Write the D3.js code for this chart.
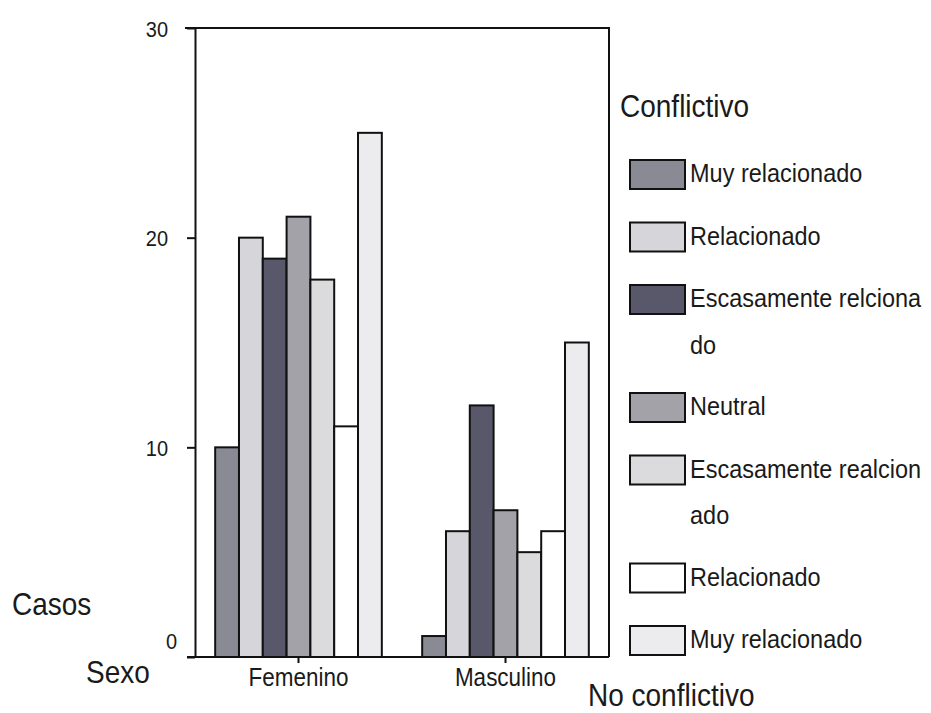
<!DOCTYPE html>
<html>
<head>
<meta charset="utf-8">
<script src="https://cdn.jsdelivr.net/npm/d3@7"></script>
<style>
  body { margin: 0; background: #fff; }
  text { font-family: "Liberation Sans", Arial, sans-serif; fill: #1a1a1a; }
</style>
</head>
<body>
<svg id="chart" width="931" height="713"></svg>
<script>
// sexo categories
const categories = ['Femenino', 'Masculino']
// conflictivo -> no conflictivo scale, one series each
const series = ['Muy relacionado', 'Relacionado', 'Escasamente relcionado', 'Neutral',
  'Escasamente realcionado', 'Relacionado', 'Muy relacionado']
// legend labels as they wrap in the original
const legendLabels = [['Muy relacionado'], ['Relacionado'], ['Escasamente relciona', 'do'], ['Neutral'],
  ['Escasamente realcion', 'ado'], ['Relacionado'], ['Muy relacionado']]
const femenino = [10, 20, 19, 21, 18, 11, 25]
const masculino = [1, 6, 12, 7, 5, 6, 15]
const yTicks = [0, 10, 20, 30]
const fills = ['#8a8a95', '#d6d6da', '#58586a', '#a2a2a8', '#dbdbde', '#ffffff', '#ececef']

const values = [femenino, masculino]
const data = []
categories.forEach((c, ci) => {
  series.forEach((s, si) => {
    data.push({cat: c, idx: si, value: values[ci][si]})
  })
})

const svg = d3.select('#chart')
const plotLeft = 195, plotRight = 609, plotTop = 28, plotBottom = 657
const stretch = 1.12 // the scanned text is a bit taller than wide

const x = d3.scaleBand().domain(categories).range([plotLeft, plotRight])
  .paddingInner(0.195).paddingOuter(0.0975)
const xi = d3.scaleBand().domain(d3.range(series.length)).range([0, x.bandwidth()])
const y = d3.scaleLinear().domain([0, 30]).range([plotBottom, plotTop])

// bars
svg.append('g')
  .selectAll('rect')
  .data(data)
  .join('rect')
  .attr('x', d => x(d.cat) + xi(d.idx))
  .attr('y', d => y(d.value))
  .attr('width', xi.bandwidth())
  .attr('height', d => y(0) - y(d.value))
  .attr('fill', d => fills[d.idx])
  .attr('stroke', '#111')
  .attr('stroke-width', 2)

// frame top + right
svg.append('path')
  .attr('d', `M${plotLeft - 10},${plotTop}H${plotRight}V${plotBottom}`)
  .attr('fill', 'none')
  .attr('stroke', '#111')
  .attr('stroke-width', 2)

// y axis
const yAxis = svg.append('g')
  .attr('transform', `translate(${plotLeft},0)`)
  .call(d3.axisLeft(y).tickValues(yTicks).tickSize(8).tickSizeOuter(0).tickPadding(19))
yAxis.selectAll('path, line').attr('stroke', '#111').attr('stroke-width', 2)
yAxis.selectAll('text').style('font-size', '20px').attr('fill', '#1a1a1a')
  .style('font-family', '"Liberation Sans", Arial, sans-serif')
  .attr('dy', '0.36em')
  .attr('transform', `scale(1,${stretch})`)
// SPSS draws the zero label a bit higher
yAxis.selectAll('.tick text').filter(d => d === 0).attr('x', -18).attr('dy', '-0.4em')

// x axis
const xAxis = svg.append('g')
  .attr('transform', `translate(0,${plotBottom})`)
  .call(d3.axisBottom(x).tickSize(6).tickSizeOuter(0).tickPadding(4))
xAxis.select('.domain').attr('d', `M${plotLeft - 8},0H${plotRight}`)
xAxis.selectAll('path, line').attr('stroke', '#111').attr('stroke-width', 2)
xAxis.selectAll('text').style('font-size', '22.5px').attr('fill', '#1a1a1a')
  .style('font-family', '"Liberation Sans", Arial, sans-serif')
  .attr('transform', `scale(1,${stretch})`)

function label(px, py, size, str) {
  return svg.append('text')
    .attr('transform', `translate(${px},${py}) scale(1,${stretch})`)
    .style('font-size', size + 'px')
    .text(str)
}

// titles
label(12, 615, 28, 'Casos')
label(86, 683, 28, 'Sexo')
label(620, 117, 28, 'Conflictivo')
label(588, 706, 28, 'No conflictivo')

// legend
let ly = 160
const legend = svg.append('g')
legendLabels.forEach((lines, i) => {
  const g = legend.append('g').attr('transform', `translate(630,${ly})`)
  g.append('rect')
    .attr('width', 55).attr('height', 29)
    .attr('fill', fills[i])
    .attr('stroke', '#111').attr('stroke-width', 2)
  g.append('text')
    .attr('transform', `translate(60,22) scale(1,${stretch})`)
    .style('font-size', '23.5px')
    .selectAll('tspan')
    .data(lines)
    .join('tspan')
    .attr('x', 0)
    .attr('dy', (d, j) => j === 0 ? 0 : 47 / stretch)
    .text(d => d)
  ly += 62.5 + 45.5 * (lines.length - 1)
})
</script>
</body>
</html>
